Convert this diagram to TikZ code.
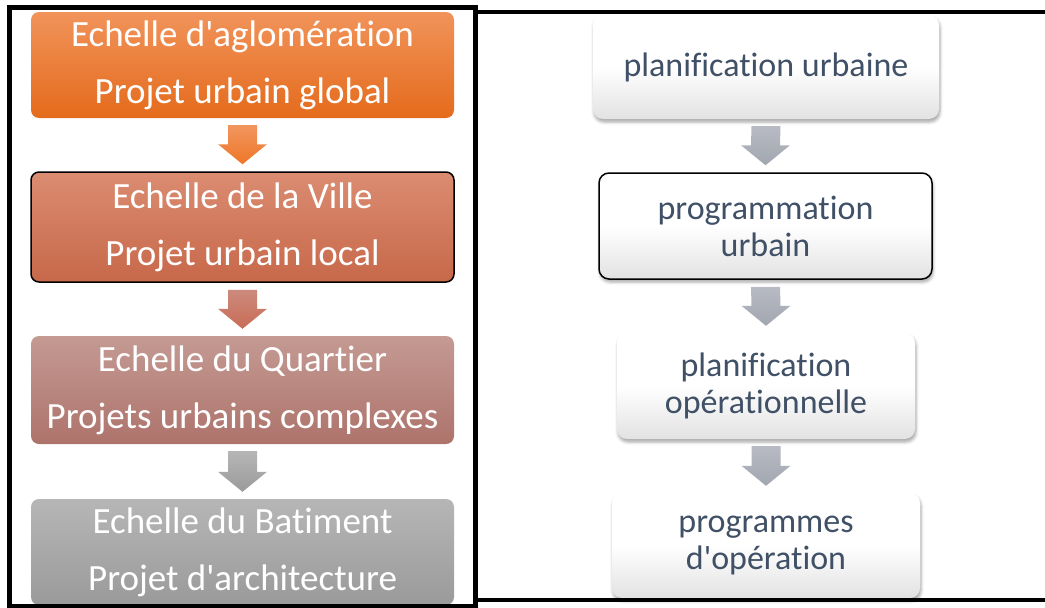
\documentclass[tikz,border=0pt]{standalone}
\usepackage{fontspec}
\setmainfont{Carlito}[RawFeature={-liga;-clig}]
\usetikzlibrary{calc,shadows.blur}
\definecolor{oTop}{RGB}{241,147,90}
\definecolor{oBot}{RGB}{228,107,28}
\definecolor{aoTop}{RGB}{242,150,96}
\definecolor{aoBot}{RGB}{238,118,40}
\definecolor{sTop}{RGB}{219,140,113}
\definecolor{sBot}{RGB}{199,104,74}
\definecolor{asTop}{RGB}{204,138,124}
\definecolor{asBot}{RGB}{200,108,86}
\definecolor{qTop}{RGB}{196,154,147}
\definecolor{qBot}{RGB}{173,115,107}
\definecolor{gTop}{RGB}{182,182,182}
\definecolor{gBot}{RGB}{154,154,154}
\definecolor{rText}{RGB}{64,80,102}
\definecolor{rBot}{RGB}{226,226,226}
\definecolor{raTop}{RGB}{184,187,195}
\definecolor{raBot}{RGB}{162,166,176}
\tikzset{
  lbox/.style={rectangle, rounded corners=8pt, minimum width=423pt, inner sep=0pt,
    align=center, text=white, font=\fontsize{37}{57}\selectfont},
  rbox/.style={rectangle, rounded corners=10pt, inner sep=0pt, align=center,
    text=rText, font=\fontsize{34}{37}\selectfont,
    blur shadow={shadow xshift=1pt, shadow yshift=-3pt, shadow blur radius=3pt, shadow opacity=35},
    top color=white, bottom color=rBot, middle color=white},
  outline/.style={draw=black, line width=1.5pt},
  framepen/.style={draw=black, line width=5pt},
  larrowA/.style={top color=aoTop, bottom color=aoBot},
  larrowB/.style={top color=asTop, bottom color=asBot},
  larrowC/.style={top color=gTop, bottom color=gBot},
  rarrow/.style={top color=raTop, bottom color=raBot},
}
\newcommand\blockarrow[3]{%
  \path[#3] ($(#1.south)+(-14.5,7)$) -- ($(#1.south)+(14.5,7)$)
    -- ($(#2.north)+(14.5,-27)$) -- ($(#2.north)+(24.5,-27)$)
    -- ($(#2.north)+(0,-7)$) -- ($(#2.north)+(-24.5,-27)$)
    -- ($(#2.north)+(-14.5,-27)$) -- cycle;}
\begin{document}
\begin{tikzpicture}[x=1pt,y=-1pt]
\useasboundingbox (0,0) rectangle (1045,608);
% left column
\node[lbox, minimum height=106pt, top color=oTop, bottom color=oBot] (b1) at (242.5,65)
  {Echelle d\textquotesingle aglomération\\Projet urbain global};
\node[lbox, outline, minimum height=110pt, top color=sTop, bottom color=sBot] (b2) at (242.5,227)
  {Echelle de la Ville\\Projet urbain local};
\node[lbox, minimum height=108pt, top color=qTop, bottom color=qBot] (b3) at (242.5,390)
  {Echelle du Quartier\\Projets urbains complexes};
\node[lbox, minimum height=106pt, top color=gTop, bottom color=gBot] (b4) at (242.5,552)
  {Echelle du Batiment\\Projet d\textquotesingle architecture};
\blockarrow{b1}{b2}{larrowA}
\blockarrow{b2}{b3}{larrowB}
\blockarrow{b3}{b4}{larrowC}
% right column
\node[rbox, minimum width=346pt, minimum height=104pt] (r1) at (766,67)
  {planification urbaine};
\node[rbox, outline, minimum width=333pt, minimum height=106pt] (r2) at (765.5,226)
  {programmation\\urbain};
\node[rbox, minimum width=298pt, minimum height=106pt] (r3) at (766,386)
  {planification\\opérationnelle};
\node[rbox, minimum width=308pt, minimum height=105pt] (r4) at (766,545.5)
  {programmes\\d\textquotesingle opération};
\blockarrow{r1}{r2}{rarrow}
\blockarrow{r2}{r3}{rarrow}
\blockarrow{r3}{r4}{rarrow}
% frames
\draw[framepen] (9.5,7.5) rectangle (475.5,606.5);
\draw[black, line width=4pt] (475.5,12) -- (1046,12);
\draw[black, line width=4pt] (475.5,599.5) -- (1046,599.5);
\end{tikzpicture}
\end{document}
